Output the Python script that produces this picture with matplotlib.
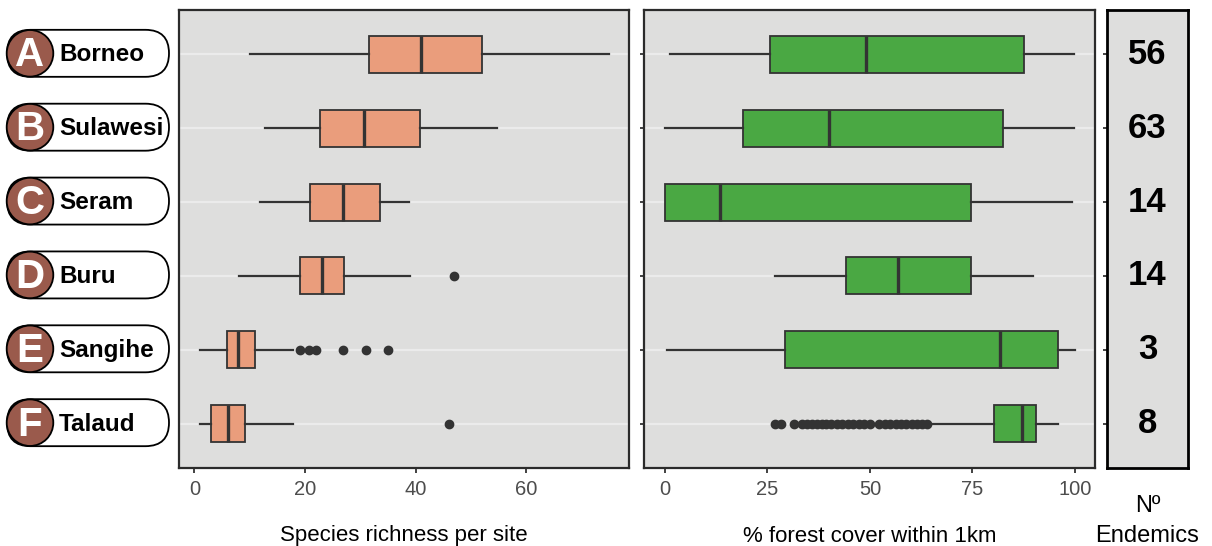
import matplotlib.pyplot as plt
from matplotlib.patches import FancyBboxPatch, Circle

plt.rcParams["font.family"] = ["Liberation Sans", "DejaVu Sans"]

# Data
islands = ["Borneo", "Sulawesi", "Seram", "Buru", "Sangihe", "Talaud"]
letters = ["A", "B", "C", "D", "E", "F"]
endemics = [56, 63, 14, 14, 3, 8]

# species richness per site (whisker low, Q1, median, Q3, whisker high, outliers)
rich_lo = [10.1, 12.8, 11.9, 8.1, 1.0, 1.0]
rich_q1 = [31.5, 22.7, 20.9, 19.0, 5.8, 2.9]
rich_med = [41.0, 30.7, 26.8, 23.0, 7.8, 6.0]
rich_q3 = [52.0, 40.8, 33.6, 27.1, 11.0, 9.1]
rich_hi = [75.0, 54.7, 38.8, 38.9, 17.9, 17.9]
rich_out = [[], [], [], [47.0], [19.0, 20.8, 22.0, 26.9, 31.0, 35.0], [46.0]]

# % forest cover within 1km
forest_lo = [1.2, 0.1, 0.0, 26.9, 0.6, 65.0]
forest_q1 = [25.7, 19.0, 0.0, 44.2, 29.3, 80.2]
forest_med = [49.0, 40.0, 13.5, 56.9, 81.7, 87.1]
forest_q3 = [87.5, 82.4, 74.7, 74.6, 95.9, 90.5]
forest_hi = [99.8, 99.8, 99.4, 89.8, 100.0, 95.8]
forest_out = [[], [], [], [], [],
              [26.8, 28.4, 31.6, 33.4, 34.6, 35.8, 37.0, 38.2, 39.4, 40.6,
               41.9, 43.2, 44.6, 45.9, 47.3, 48.6, 50.0, 52.3, 53.6, 55.0,
               56.3, 57.6, 58.9, 60.2, 61.5, 62.8, 64.0]]

W, H = 1212, 546
dark = "#333333"
panel_bg = "#DEDEDD"
grid_col = "#EBEBEB"


def make_stats(lo, q1, med, q3, hi, out):
    return [dict(whislo=a, q1=b, med=c, q3=d, whishi=e, fliers=f)
            for a, b, c, d, e, f in zip(lo, q1, med, q3, hi, out)]


def style_panel(ax, show_yticks=True, grid=True):
    ax.set_facecolor(panel_bg)
    for s in ax.spines.values():
        s.set_color("#2b2b2b")
        s.set_linewidth(1.6)
    ax.set_ylim(len(islands) + 0.6, 0.4)
    ax.set_yticks(range(1, len(islands) + 1))
    ax.set_yticklabels([])
    ax.tick_params(axis="y", length=3.0 if show_yticks else 0, width=1.3, color=dark)
    ax.tick_params(axis="x", length=3.5, width=1.3, color=dark, pad=5,
                   labelsize=14.5, labelcolor="#4D4D4D")
    if grid:
        for p in range(1, len(islands) + 1):
            ax.axhline(p, color=grid_col, lw=1.6, zorder=0)


fig = plt.figure(figsize=(W / 100, H / 100), dpi=100)

# overlay in pixel coordinates for the island label pills
axo = fig.add_axes([0, 0, 1, 1])
axo.set_xlim(0, W)
axo.set_ylim(H, 0)
axo.axis("off")

ax1 = fig.add_axes([179 / W, 78 / H, 450 / W, 458 / H])
ax2 = fig.add_axes([644 / W, 78 / H, 451 / W, 458 / H])
ax3 = fig.add_axes([1107 / W, 78 / H, 81 / W, 458 / H])

box_kw = dict(positions=range(1, len(islands) + 1), widths=0.5, orientation="horizontal",
              patch_artist=True, showcaps=False,
              medianprops=dict(color=dark, linewidth=2.4),
              whiskerprops=dict(color=dark, linewidth=1.6),
              flierprops=dict(marker="o", markerfacecolor=dark, markeredgecolor=dark,
                              markersize=6, linestyle="none"))

# Species richness
ax1.bxp(make_stats(rich_lo, rich_q1, rich_med, rich_q3, rich_hi, rich_out),
        boxprops=dict(facecolor="#EA9D7C", edgecolor=dark, linewidth=1.3), **box_kw)
style_panel(ax1, show_yticks=False)
ax1.set_xlim(-2.8, 78.6)
ax1.set_xticks([0, 20, 40, 60])

# Forest cover
ax2.bxp(make_stats(forest_lo, forest_q1, forest_med, forest_q3, forest_hi, forest_out),
        boxprops=dict(facecolor="#4AA843", edgecolor=dark, linewidth=1.3), **box_kw)
style_panel(ax2)
ax2.set_xlim(-5.1, 104.9)
ax2.set_xticks([0, 25, 50, 75, 100])

# Number of endemics
style_panel(ax3, grid=False)
for s in ax3.spines.values():
    s.set_color("black")
    s.set_linewidth(2.0)
ax3.set_xlim(0, 1)
ax3.set_xticks([])
for i, n in enumerate(endemics):
    ax3.text(0.5, i + 1, str(n), ha="center", va="center", fontsize=25,
             fontweight="bold", color="black")

# axis titles
fig.text((179 + 629) / 2 / W, 1 - 541.5 / H, "Species richness per site",
         ha="center", va="baseline", fontsize=16)
fig.text((644 + 1095) / 2 / W, 1 - 541.5 / H, "% forest cover within 1km",
         ha="center", va="baseline", fontsize=16)
fig.text(1147.5 / W, 1 - 512 / H, "Nº", ha="center", va="baseline", fontsize=17)
fig.text(1147.5 / W, 1 - 541.5 / H, "Endemics", ha="center", va="baseline", fontsize=17)

# island labels: white pill with brown letter circle
for i, (name, let) in enumerate(zip(islands, letters)):
    yd = ax1.transData.transform((0, i + 1))[1]
    yc = H - yd - 1
    pill = FancyBboxPatch((7, yc - 23.5), 162, 47,
                          boxstyle="round,pad=0,rounding_size=23.5",
                          facecolor="white", edgecolor="black", linewidth=1.3)
    axo.add_patch(pill)
    axo.add_patch(Circle((30, yc), 23.3, facecolor="#9A5A4C", edgecolor="black",
                         linewidth=1.3))
    axo.text(30, yc + 13, let, ha="center", va="baseline", fontsize=29,
             fontweight="bold", color="white")
    axo.text(59, yc + 8, name, ha="left", va="baseline", fontsize=17.5,
             fontweight="bold", color="black")

fig.savefig("out.png", dpi=100)
